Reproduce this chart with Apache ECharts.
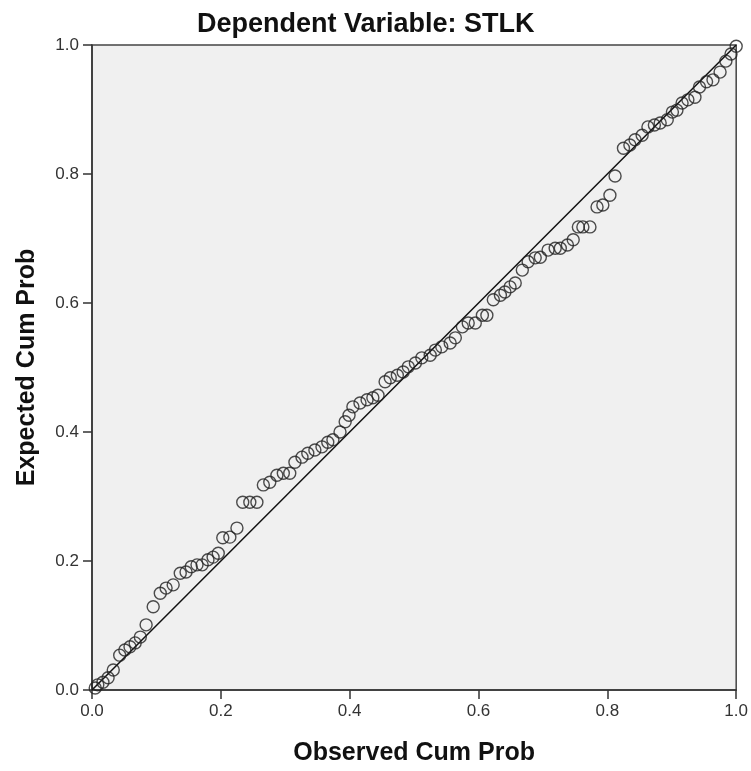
<!DOCTYPE html>
<html>
<head>
<meta charset="utf-8">
<script src="https://cdn.jsdelivr.net/npm/echarts@6/dist/echarts.min.js"></script>
<style>
html,body{margin:0;padding:0;background:#fff;}
#chart{width:751px;height:771px;}
</style>
</head>
<body>
<div id="chart"></div>
<script>
var titleText = 'Dependent Variable: STLK';
var xAxisName = 'Observed Cum Prob';
var yAxisName = 'Expected Cum Prob';
var tickValues = [0, 0.2, 0.4, 0.6, 0.8, 1.0];

var observedCumProb = [
0.005,0.009,0.017,0.025,0.033,0.043,0.051,0.059,0.067,0.075,
0.084,0.095,0.106,0.115,0.126,0.137,0.146,0.154,0.163,0.171,
0.180,0.188,0.196,0.203,0.214,0.225,0.234,0.245,0.256,0.266,
0.276,0.287,0.297,0.307,0.315,0.326,0.335,0.346,0.357,0.366,
0.374,0.385,0.393,0.399,0.405,0.416,0.427,0.436,0.444,0.455,
0.463,0.474,0.483,0.491,0.502,0.512,0.525,0.533,0.543,0.556,
0.564,0.575,0.584,0.595,0.606,0.613,0.623,0.634,0.641,0.649,
0.657,0.668,0.677,0.688,0.696,0.708,0.719,0.727,0.738,0.747,
0.755,0.762,0.773,0.784,0.793,0.804,0.812,0.825,0.835,0.843,
0.854,0.863,0.873,0.882,0.893,0.901,0.908,0.916,0.925,0.936,
0.943,0.954,0.964,0.975,0.984,0.992,1.000
];
var expectedCumProb = [
0.003,0.008,0.012,0.019,0.031,0.054,0.062,0.067,0.073,0.082,
0.101,0.129,0.150,0.158,0.163,0.181,0.183,0.191,0.194,0.194,
0.202,0.206,0.212,0.236,0.237,0.251,0.291,0.291,0.291,0.318,
0.322,0.333,0.336,0.336,0.353,0.361,0.367,0.372,0.377,0.384,
0.388,0.400,0.416,0.426,0.439,0.445,0.450,0.453,0.457,0.478,
0.484,0.488,0.493,0.501,0.507,0.515,0.519,0.527,0.532,0.538,
0.546,0.563,0.569,0.569,0.581,0.581,0.605,0.612,0.617,0.625,
0.631,0.651,0.664,0.670,0.671,0.682,0.685,0.685,0.690,0.698,
0.718,0.718,0.718,0.749,0.752,0.767,0.797,0.840,0.845,0.853,
0.860,0.873,0.876,0.879,0.884,0.896,0.899,0.910,0.915,0.919,
0.935,0.943,0.946,0.958,0.975,0.986,0.998
];
var refLineX = [0, 1];
var refLineY = [0, 1];

var points = observedCumProb.map(function (x, i) { return [x, expectedCumProb[i]]; });
var refLine = refLineX.map(function (x, i) { return [x, refLineY[i]]; });

var chart = echarts.init(document.getElementById('chart'), null, {renderer: 'canvas'});
var fontFam = '"Liberation Sans", Arial, sans-serif';
var axisCommon = {
  type: 'value', min: 0, max: 1, interval: 0.2,
  nameLocation: 'middle',
  nameTextStyle: {fontFamily: fontFam, fontWeight: 'bold', fontSize: 25, color: '#111'},
  axisLine: {show: true, lineStyle: {color: '#333', width: 1.5}},
  axisTick: {show: true, inside: false, length: 9, lineStyle: {color: '#333', width: 1.5}},
  axisLabel: {fontFamily: fontFam, fontSize: 17, color: '#333', margin: 13,
    formatter: function (v) { return v.toFixed(1); }},
  splitLine: {show: false}
};
chart.setOption({
  animation: false,
  backgroundColor: '#ffffff',
  title: {
    text: titleText, left: 192, top: 6,
    textStyle: {fontFamily: fontFam, fontWeight: 'bold', fontSize: 27, color: '#111'}
  },
  grid: {
    left: 92, right: 14, top: 45, bottom: 81,
    show: true, backgroundColor: '#f0f0f0', borderColor: '#444', borderWidth: 1.5
  },
  xAxis: Object.assign({}, axisCommon, {name: xAxisName, nameGap: 51}),
  yAxis: Object.assign({}, axisCommon, {name: yAxisName, nameGap: 52}),
  series: [
    {
      type: 'line', data: refLine, symbol: 'none', silent: true,
      lineStyle: {color: '#111', width: 1.5}, z: 2
    },
    {
      type: 'scatter', data: points, symbol: 'circle', symbolSize: 12,
      itemStyle: {color: 'rgba(0,0,0,0)', borderColor: '#222', borderWidth: 1.4},
      z: 3
    }
  ]
});
</script>
</body>
</html>
